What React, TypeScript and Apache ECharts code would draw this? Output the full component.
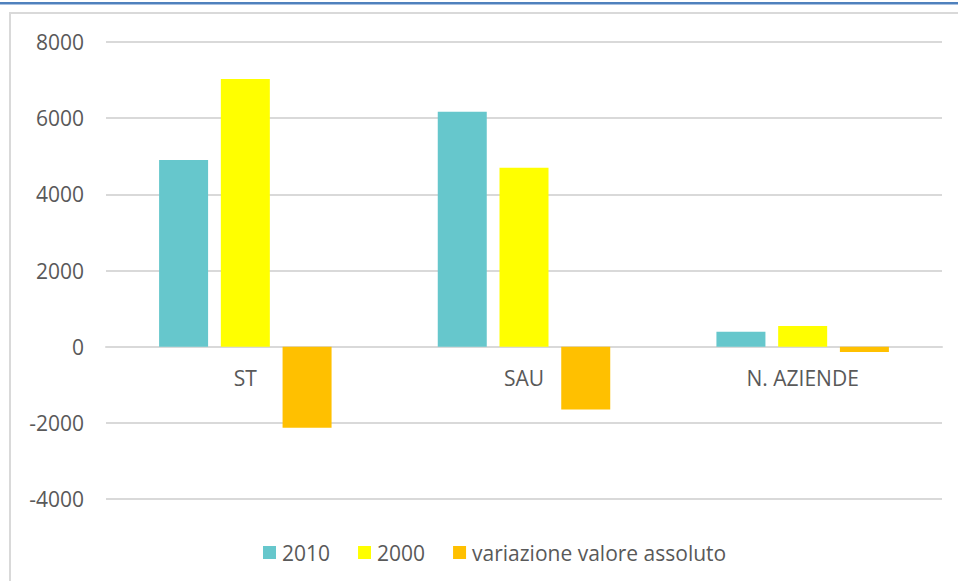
import React, { useEffect, useRef } from "react";
import * as echarts from "echarts";

const categories = ["ST", "SAU", "N. AZIENDE"];
const seriesNames = ["2010", "2000", "variazione valore assoluto"];
const values2010 = [4900, 6170, 390];
const values2000 = [7030, 4700, 540];
const valuesVariazione = [-2130, -1650, -140];
const yTicks = { min: -4000, max: 8000, interval: 2000 };
const colors = ["#66c7cc", "#ffff00", "#ffc000"];

export default function App() {
  const ref = useRef<HTMLDivElement>(null);
  useEffect(() => {
    document.body.style.margin = "0";
    document.body.style.overflow = "hidden";
    document.documentElement.style.overflow = "hidden";
    const chart = echarts.init(ref.current!, undefined, { renderer: "svg" });
    const font = "'Open Sans', sans-serif";
    const data = [values2010, values2000, valuesVariazione];
    chart.setOption({
      animation: false,
      backgroundColor: "#ffffff",
      graphic: [
        { type: "rect", shape: { x: 0, y: 2, width: 958, height: 2 }, style: { fill: "#4f81bd" } },
        { type: "rect", shape: { x: 0, y: 4, width: 958, height: 1 }, style: { fill: "#a9c1e0" } },
        {
          type: "rect",
          shape: { x: 10, y: 13, width: 1000, height: 1000 },
          style: { fill: "none", stroke: "#d9d9d9", lineWidth: 2 },
        },
      ],
      grid: { left: 106, right: 16, top: 42, bottom: 82 },
      legend: {
        data: seriesNames,
        left: 258,
        top: 537,
        icon: "rect",
        itemWidth: 13,
        itemHeight: 13,
        itemGap: 28,
        textStyle: { color: "#595959", fontSize: 21, fontFamily: font, padding: [0, 0, 0, 1] },
      },
      xAxis: {
        type: "category",
        data: categories,
        offset: -152,
        axisTick: { show: false },
        axisLine: { onZero: false, lineStyle: { color: "#d9d9d9", width: 2 } },
        axisLabel: { color: "#595959", fontSize: 21, fontFamily: font, margin: 20 },
      },
      yAxis: {
        type: "value",
        min: yTicks.min,
        max: yTicks.max,
        interval: yTicks.interval,
        axisLine: { show: false },
        axisTick: { show: false },
        splitLine: { lineStyle: { color: "#d9d9d9", width: 2 } },
        axisLabel: {
          color: "#595959",
          fontSize: 21,
          fontFamily: font,
          margin: 22,
          formatter: (v: number) => String(v),
        },
      },
      series: seriesNames.map((name, i) => ({
        name,
        type: "bar",
        data: data[i],
        barWidth: 49,
        barGap: "26%",
        itemStyle: { color: colors[i] },
      })),
    });
    return () => chart.dispose();
  }, []);
  return (
    <div
      ref={ref}
      style={{ position: "fixed", left: 0, top: 0, width: 958, height: 581 }}
    />
  );
}
